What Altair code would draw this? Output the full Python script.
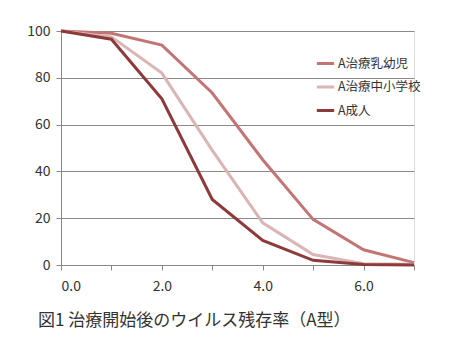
import altair as alt
import pandas as pd

days = [0, 1, 2, 3, 4, 5, 6, 7]
infant = [100, 99, 94, 73.5, 45, 19.5, 6.5, 1]
school = [100, 97.5, 82, 49, 18, 4.5, 0.5, 0.3]
adult = [100, 96.5, 71, 28, 10.5, 2, 0.2, 0]
series_names = ["A治療乳幼児", "A治療中小学校", "A成人"]
colors = ["#C27575", "#D9B5B5", "#8C3A3A"]

rows = []
for name, vals in zip(series_names, [infant, school, adult]):
    for d, v in zip(days, vals):
        rows.append({"day": d, "value": v, "series": name})
df = pd.DataFrame(rows)

FONT = "Noto Sans CJK JP"

chart = alt.Chart(df).mark_line(strokeWidth=3).encode(
    x=alt.X("day:Q", scale=alt.Scale(domain=[0, 7], nice=False),
            axis=alt.Axis(values=days, format=".1f", grid=False, title=None,
                          labelExpr="datum.value % 2 == 0 ? format(datum.value, '.1f') : ''",
                          tickSize=5, labelPadding=9, labelFontSize=14,
                          labelColor="#333333", domainColor="#888888", tickColor="#888888",
                          labelFont=FONT)),
    y=alt.Y("value:Q", scale=alt.Scale(domain=[0, 100], nice=False),
            axis=alt.Axis(values=[0, 20, 40, 60, 80, 100], grid=True, gridColor="#8a8a8a",
                          title=None, tickSize=5, labelPadding=6, labelFontSize=14,
                          labelColor="#333333", domainColor="#888888", tickColor="#888888",
                          labelFont=FONT)),
    color=alt.Color("series:N", scale=alt.Scale(domain=series_names, range=colors),
                    sort=series_names,
                    legend=alt.Legend(title=None, orient="none", legendX=254, legendY=22,
                                      symbolType="stroke", symbolStrokeWidth=3, symbolSize=300,
                                      labelFontSize=12.5, labelFont=FONT, labelColor="#333333",
                                      rowPadding=6.5, labelOffset=2)),
).properties(
    width=353, height=234,
    title=alt.TitleParams("図1  治療開始後のウイルス残存率（A型）", orient="bottom", anchor="start",
                          frame="group", dx=-23, offset=20, fontSize=17, font=FONT,
                          fontWeight="normal", color="#333333"),
    autosize=alt.AutoSizeParams(type="none"),
    padding={"left": 61, "top": 31, "right": 37, "bottom": 89},
).configure_view(stroke=None).configure(background="white")

chart.save("out.html", embed_options={"renderer": "svg", "actions": False})
